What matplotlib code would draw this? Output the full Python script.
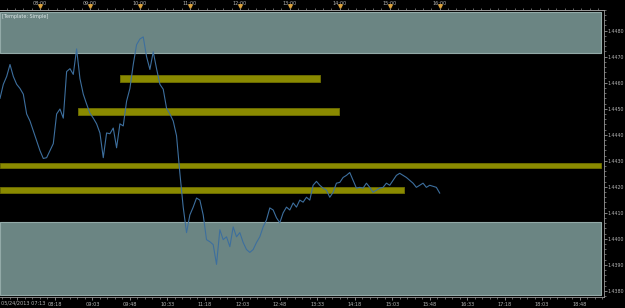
import numpy as np
import pandas as pd
import matplotlib
matplotlib.use("Agg")
import matplotlib.pyplot as plt
import matplotlib.dates as mdates
import matplotlib.transforms as mtransforms

# EURUSD-ish price, sampled every 4 minutes from 07:12
close = [1.44540, 1.44594, 1.44624, 1.44670, 1.44624, 1.44594, 1.44578, 1.44556,
         1.44480, 1.44453, 1.44415, 1.44377, 1.44339, 1.44309, 1.44312, 1.44339,
         1.44366, 1.44480, 1.44499, 1.44464, 1.44643, 1.44654, 1.44632, 1.44730,
         1.44616, 1.44556, 1.44518, 1.44483, 1.44464, 1.44442, 1.44407, 1.44312,
         1.44407, 1.44404, 1.44426, 1.44350, 1.44442, 1.44434, 1.44529, 1.44578,
         1.44670, 1.44746, 1.44768, 1.44776, 1.44700, 1.44651, 1.44719, 1.44654,
         1.44594, 1.44575, 1.44502, 1.44480, 1.44453, 1.44396, 1.44252, 1.44122,
         1.44024, 1.44092, 1.44122, 1.44157, 1.44149, 1.44092, 1.43997, 1.43989,
         1.43978, 1.43902, 1.44035, 1.43997, 1.44008, 1.43970, 1.44046, 1.44008,
         1.44024, 1.43986, 1.43959, 1.43948, 1.43959, 1.43986, 1.44008, 1.44046,
         1.44073, 1.44119, 1.44111, 1.44081, 1.44062, 1.44100, 1.44122, 1.44111,
         1.44138, 1.44122, 1.44149, 1.44141, 1.44160, 1.44149, 1.44206, 1.44221,
         1.44206, 1.44195, 1.44187, 1.44160, 1.44179, 1.44214, 1.44217, 1.44236,
         1.44244, 1.44255, 1.44225, 1.44195, 1.44198, 1.44195, 1.44214, 1.44198,
         1.44179, 1.44187, 1.44195, 1.44198, 1.44214, 1.44206, 1.44225, 1.44244,
         1.44252, 1.44244, 1.44236, 1.44225, 1.44214, 1.44198, 1.44206, 1.44214,
         1.44198, 1.44206, 1.44202, 1.44198, 1.44176]

day = "2013-05-24 "
times = pd.date_range(day + "07:12", periods=len(close), freq="4min")

view_start, view_end = day + "07:12", day + "19:17"
price_lo, price_hi = 1.43777, 1.44875

# grey supply/demand zones
zones = [(1.44715, 1.44870), (1.43784, 1.44065)]
zone_end = day + "19:14"

# yellow levels: start, end, low, high
bands = [("09:36", "13:36", 1.44601, 1.44628),
         ("08:46", "13:59", 1.44476, 1.44502),
         ("07:12", "19:14", 1.44271, 1.44293),
         ("07:12", "15:17", 1.44176, 1.44198)]

top_hours = ["08:00", "09:00", "10:00", "11:00", "12:00", "13:00", "14:00", "15:00", "16:00"]
bottom_ticks = pd.date_range(day + "07:33", day + "18:48", freq="45min")
y_ticks = np.arange(1.4380, 1.44805, 0.001)

fg = "#b4b4b4"
fig = plt.figure(figsize=(6.25, 3.08), dpi=100, facecolor="black")
ax = fig.add_axes([0.0, 0.036, 0.966, 0.932])
ax.set_facecolor("black")

x0 = mdates.date2num(pd.Timestamp(view_start))
x1 = mdates.date2num(pd.Timestamp(view_end))
xz = mdates.date2num(pd.Timestamp(zone_end))

for lo, hi in zones:
  ax.fill_between([x0, xz], lo, hi, facecolor="#6b8583", edgecolor="#93aaa8", lw=0.8, zorder=1)

for s, e, lo, hi in bands:
  bs = mdates.date2num(pd.Timestamp(day + s))
  be = mdates.date2num(pd.Timestamp(day + e))
  ax.fill_between([bs, be], lo, hi, facecolor="#8a8a00", edgecolor="#6f6f00", lw=0.6, zorder=2)

ax.plot(mdates.date2num(times), close, color="#3d6f9e", lw=0.8, zorder=3)

ax.set_xlim(x0, x1)
ax.set_ylim(price_lo, price_hi)

# right price axis
ax.yaxis.tick_right()
ax.set_yticks(y_ticks)
ax.set_yticklabels(["%.4f" % v for v in y_ticks])
ax.set_yticks(np.arange(1.4378, 1.4488, 0.0002), minor=True)
ax.tick_params(axis="y", which="major", colors=fg, labelsize=3.4, length=2, width=0.5, pad=0.8)
ax.tick_params(axis="y", which="minor", colors=fg, length=1.2, width=0.4)

# bottom time axis
ax.set_xticks(mdates.date2num(bottom_ticks))
ax.set_xticklabels([""] + [t.strftime("%H:%M") for t in bottom_ticks[1:]])
ax.set_xticks(mdates.date2num(pd.date_range(day + "07:15", day + "19:15", freq="9min")), minor=True)
ax.tick_params(axis="x", which="major", colors=fg, labelsize=3.6, length=2.5, width=0.5, pad=1)
ax.tick_params(axis="x", which="minor", colors=fg, length=1.3, width=0.4)
ax.text(0.001, -0.014, "05/24/2013 07:13", transform=ax.transAxes, color=fg,
        fontsize=3.6, ha="left", va="top")

# top time axis with hour markers
top = ax.secondary_xaxis("top")
hour_x = [mdates.date2num(pd.Timestamp(day + h)) for h in top_hours]
top.set_xticks(hour_x)
top.set_xticklabels(top_hours)
top.set_xticks(mdates.date2num(pd.date_range(day + "07:20", day + "19:10", freq="10min")), minor=True)
top.tick_params(axis="x", which="major", colors=fg, labelsize=3.5, length=1.5, width=0.5, pad=1.6)
top.tick_params(axis="x", which="minor", colors=fg, length=1.2, width=0.4)
trans = mtransforms.blended_transform_factory(ax.transData, ax.transAxes)
ax.plot(hour_x, [1.013] * len(hour_x), linestyle="none", marker="v", markersize=2.6,
        color="#d8a03c", transform=trans, clip_on=False, zorder=5)

ax.spines["left"].set_visible(False)
for side in ["right", "bottom", "top"]:
  ax.spines[side].set_color("#9a9a9a")
  ax.spines[side].set_linewidth(0.6)
top.spines["top"].set_color("#9a9a9a")
top.spines["top"].set_linewidth(0.6)

# template tag and current price box
ax.text(0.004, 0.985, "[Template: Simple]", transform=ax.transAxes, color="#dde6e6",
        fontsize=3.5, ha="left", va="top", zorder=6)
ax.text(1.003, close[-1], "%.5f" % close[-1], transform=trans, color="white", fontsize=3.4,
        ha="left", va="center", clip_on=False,
        bbox=dict(boxstyle="square,pad=0.15", facecolor="#3c84d8", edgecolor="none"))

fig.savefig("out.png", dpi=100, facecolor="black")
